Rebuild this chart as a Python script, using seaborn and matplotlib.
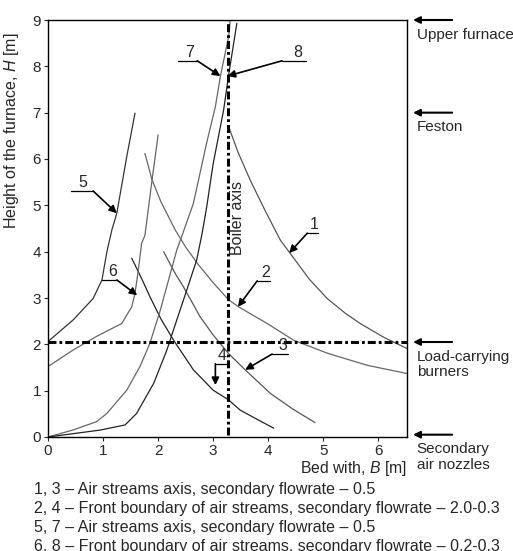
import matplotlib
matplotlib.use('Agg')
import matplotlib.pyplot as plt
import seaborn as sns
import pandas as pd

# curves: bed width B [m] vs height H [m]
B1 = [3.28, 3.45, 3.67, 3.95, 4.22, 4.4, 4.75, 5.07, 5.4, 5.67, 6.1, 6.52]
H1 = [6.70, 6.15, 5.55, 4.87, 4.25, 3.96, 3.4, 2.99, 2.67, 2.45, 2.15, 1.91]

B2 = [1.76, 1.89, 2.05, 2.31, 2.5, 2.73, 3.0, 3.28, 3.46, 3.98, 4.46, 5.07, 5.79, 6.52]
H2 = [6.12, 5.55, 5.08, 4.47, 4.1, 3.72, 3.33, 2.96, 2.81, 2.45, 2.09, 1.81, 1.55, 1.37]

B3 = [2.1, 2.3, 2.46, 2.62, 2.76, 3.0, 3.28, 3.58, 4.04, 4.45, 4.85]
H3 = [4.0, 3.55, 3.24, 2.9, 2.6, 2.2, 1.8, 1.45, 0.94, 0.6, 0.31]

B4 = [1.52, 1.7, 1.85, 2.05, 2.28, 2.64, 3.0, 3.28, 3.49, 3.8, 4.1]
H4 = [3.86, 3.42, 3.03, 2.55, 2.09, 1.45, 1.01, 0.8, 0.58, 0.38, 0.19]

B5 = [0, 0.46, 0.82, 0.98, 1.07, 1.16, 1.25, 1.43, 1.58]
H5 = [2.06, 2.53, 2.99, 3.39, 4.0, 4.47, 4.83, 6.05, 6.99]

B6 = [0, 0.46, 0.88, 1.34, 1.52, 1.58, 1.64, 1.7, 1.76, 1.89, 2.0]
H6 = [1.52, 1.88, 2.17, 2.45, 2.81, 3.1, 3.6, 4.18, 4.35, 5.55, 6.52]

B7 = [0, 0.45, 0.88, 1.07, 1.43, 1.67, 1.85, 2.04, 2.19, 2.34, 2.45, 2.64, 2.88, 3.04, 3.13, 3.28, 3.31]
H7 = [0, 0.15, 0.33, 0.51, 1.01, 1.52, 2.02, 2.74, 3.39, 4.04, 4.4, 5.04, 6.34, 7.13, 7.78, 8.64, 9.0]

B8 = [0, 0.95, 1.4, 1.61, 1.92, 2.16, 2.34, 2.52, 2.7, 2.8, 2.88, 3.0, 3.19, 3.28, 3.43]
H8 = [0, 0.15, 0.26, 0.51, 1.16, 1.88, 2.53, 3.17, 3.82, 4.4, 4.95, 5.9, 7.06, 7.81, 8.93]

curveNames = ['1', '2', '3', '4', '5', '6', '7', '8']
curveColors = ['#555555', '#666666', '#555555', '#222222', '#333333', '#666666', '#666666', '#222222']

boilerAxisB = 3.27
burnerH = 2.05

levelNames = ['Upper furnace', 'Feston', 'Load-carrying\nburners', 'Secondary\nair nozzles']
levelH = [9.0, 7.0, 2.05, 0.05]

# number labels: text position, underline (x0, x1, y), arrow start, arrow tip
labelText = [(4.84, 4.42), (3.95, 3.39), (4.27, 1.81), (3.17, 1.6), (0.64, 5.33), (1.18, 3.41), (2.58, 8.14), (4.53, 8.14)]
labelLine = [(4.71, 4.91, 4.40), (3.8, 4.04, 3.37), (4.07, 4.36, 1.79), (3.04, 3.25, 1.58),
             (0.42, 0.82, 5.31), (0.98, 1.25, 3.39), (2.36, 2.71, 8.12), (4.25, 4.69, 8.12)]
labelStart = [(4.71, 4.40), (3.8, 3.37), (4.07, 1.79), (3.04, 1.58), (0.82, 5.31), (1.25, 3.39), (2.71, 8.12), (4.25, 8.12)]
labelTip = [(4.38, 3.97), (3.45, 2.81), (3.58, 1.45), (3.04, 1.12), (1.25, 4.83), (1.62, 3.06), (3.13, 7.79), (3.26, 7.79)]

legendLines = ['1, 3 \u2013 Air streams axis, secondary flowrate \u2013 0.5',
               '2, 4 \u2013 Front boundary of air streams, secondary flowrate \u2013 2.0-0.3',
               '5, 7 \u2013 Air streams axis, secondary flowrate \u2013 0.5',
               '6, 8 \u2013 Front boundary of air streams, secondary flowrate \u2013 0.2-0.3']

allB = [B1, B2, B3, B4, B5, B6, B7, B8]
allH = [H1, H2, H3, H4, H5, H6, H7, H8]
frames = []
for name, b, h in zip(curveNames, allB, allH):
    frames.append(pd.DataFrame({'B': b, 'H': h, 'curve': name}))
df = pd.concat(frames, ignore_index=True)

sns.set_style('ticks')
plt.rcParams['font.family'] = ['Liberation Sans', 'DejaVu Sans']
plt.rcParams['mathtext.fontset'] = 'custom'
plt.rcParams['mathtext.it'] = 'Liberation Sans:italic'
plt.rcParams['mathtext.rm'] = 'Liberation Sans'
plt.rcParams['font.size'] = 11

fig = plt.figure(figsize=(5.13, 5.51), dpi=100)
ax = fig.add_axes([48 / 513, 1 - 437 / 551, (407 - 48) / 513, (437 - 20) / 551])

sns.lineplot(data=df, x='B', y='H', hue='curve', palette=dict(zip(curveNames, curveColors)),
             sort=False, estimator=None, legend=False, lw=0.9, ax=ax)

dashdot = (0, (2.6, 1.0, 0.9, 1.0))
ax.axvline(boilerAxisB, ymin=0.005, color='black', lw=2.2, ls=dashdot)
ax.axhline(burnerH, color='black', lw=2.2, ls=dashdot)
ax.text(3.44, 3.93, 'Boiler axis', rotation=90, ha='center', va='bottom', fontsize=11.5)

arrowStyle = dict(arrowstyle='-|>', color='black', lw=1.2, mutation_scale=11, shrinkA=0, shrinkB=0)
for name, tpos, uline, start, tip in zip(curveNames, labelText, labelLine, labelStart, labelTip):
    ax.plot([uline[0], uline[1]], [uline[2], uline[2]], color='black', lw=0.9)
    ax.text(tpos[0], tpos[1], name, ha='center', va='bottom', fontsize=11.5)
    ax.annotate('', xy=tip, xytext=start, arrowprops=arrowStyle)

for name, h in zip(levelNames, levelH):
    ax.annotate('', xy=(6.63, h), xytext=(7.34, h), arrowprops=dict(arrowstyle='-|>', color='black', lw=1.5,
                mutation_scale=10, shrinkA=0, shrinkB=0), annotation_clip=False)
    ax.annotate(name, xy=(1, h), xycoords=('axes fraction', 'data'), xytext=(7, -5.5), textcoords='offset points',
                ha='left', va='top', linespacing=1.15, fontsize=11, annotation_clip=False)

ax.set_xlim(0, 6.52)
ax.set_ylim(0, 9)
ax.set_xticks(range(0, 7))
ax.set_yticks(range(0, 10))
ax.tick_params(direction='out', length=3, width=0.8, pad=2, labelsize=11)
for s in ax.spines.values():
    s.set_linewidth(1.0)
    s.set_color('black')

ax.set_xlabel('Bed with, $B$ [m]', loc='right', labelpad=1, fontsize=11.3)
ax.set_ylabel('Height of the furnace, $H$ [m]', fontsize=11.5)
ax.yaxis.set_label_coords(-0.075, 0.735)

for i, line in enumerate(legendLines):
    fig.text(34 / 513, 1 - (494 + 19 * i) / 551, line, ha='left', va='baseline', fontsize=11.5)

fig.savefig('out.png', dpi=100)
